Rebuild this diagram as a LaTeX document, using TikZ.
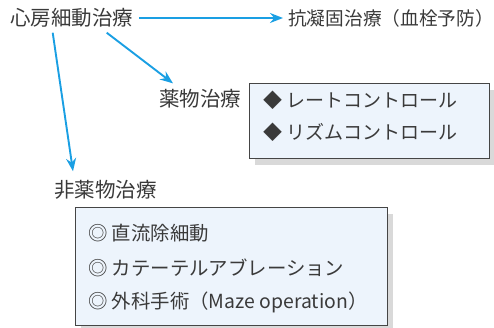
\documentclass[tikz,border=0pt]{standalone}
\usepackage{fontspec}
\setmainfont{Noto Sans CJK JP}
\usetikzlibrary{arrows.meta,shadows,calc}
\definecolor{txt}{HTML}{3A3A3A}
\definecolor{arrowblue}{HTML}{1A9FE3}
\definecolor{boxfill}{HTML}{EDF4FC}
\definecolor{boxline}{HTML}{454545}
\definecolor{shadowgray}{HTML}{D9D9D9}
\begin{document}
\begin{tikzpicture}[x=1pt,y=1pt,
  lbl/.style={inner sep=0pt, text=txt, anchor=west},
  big/.style={font=\fontsize{20.5}{24}\selectfont},
  mid/.style={font=\fontsize{19}{23}\selectfont},
  arr/.style={draw=arrowblue, line width=1.9pt, -{Stealth[length=13pt,width=10pt]}},
  listbox/.style={draw=boxline, line width=0.8pt, fill=boxfill, inner sep=0pt,
    drop shadow={shadow xshift=6pt, shadow yshift=-7pt, fill=shadowgray, opacity=1}}]
\useasboundingbox (0,0) rectangle (494,-328);
\node[lbl, big] (af) at (10,-18) {心房細動治療};
\node[lbl, font=\fontsize{18.7}{22}\selectfont] (ac) at (288,-18) {抗凝固治療（血栓予防）};
\node[lbl, big] (drug) at (159,-99) {薬物治療};
\node[lbl, big] (nondrug) at (54,-190) {非薬物治療};
\node[listbox, minimum width=240pt, minimum height=75pt] (box1) at (369,-120.5) {};
\node[lbl, mid] (r1) at (263,-100) {◆ レートコントロール};
\node[lbl, mid] (r2) at (263,-132) {◆ リズムコントロール};
\node[listbox, minimum width=312pt, minimum height=118pt] (box2) at (231,-266) {};
\node[lbl, font=\fontsize{19.4}{23}\selectfont] (n1) at (88,-233) {◎ 直流除細動};
\node[lbl, font=\fontsize{19.4}{23}\selectfont] (n2) at (88,-267.5) {◎ カテーテルアブレーション};
\node[lbl, font=\fontsize{19.4}{23}\selectfont] (n3) at (88,-302) {◎ 外科手術（Maze operation）};
\draw[arr] ([xshift=6pt]af.east) -- ([xshift=-5pt]ac.west);
\draw[arr] ($(af.south)+(35,-5)$) -- ($(drug.north west)+(14,6)$);
\draw[arr] ($(af.south)+(-19,-5)$) -- ($(nondrug.north west)+(19,9)$);
\end{tikzpicture}
\end{document}
